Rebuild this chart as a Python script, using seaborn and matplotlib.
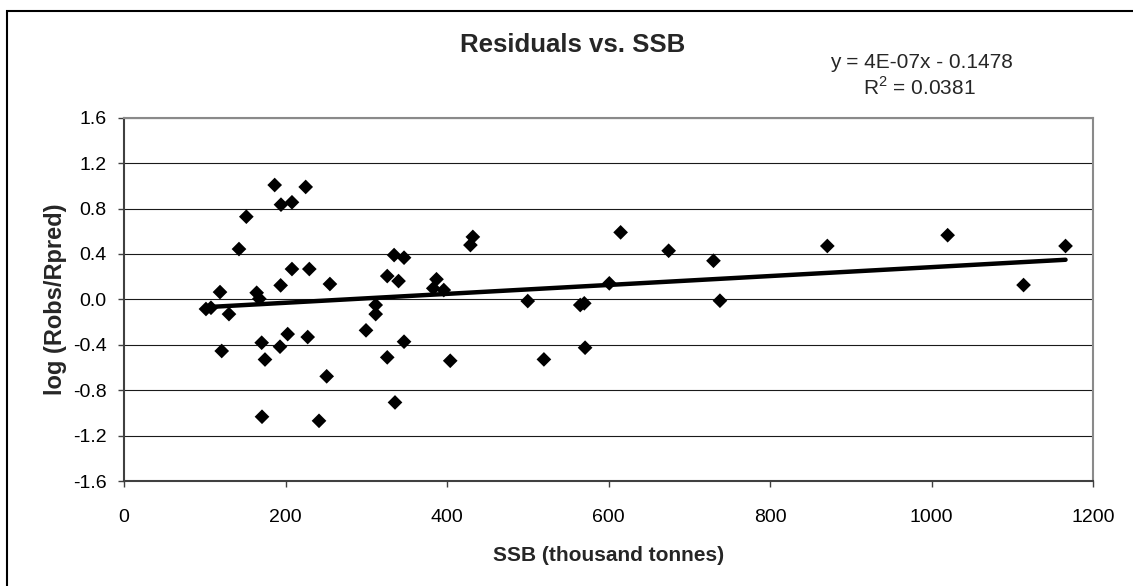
import numpy as np
import pandas as pd
import matplotlib
matplotlib.use("Agg")
import matplotlib.pyplot as plt
import seaborn as sns
from matplotlib.patches import Rectangle

# ---- data ----
ssb = [101.5, 107.7, 118.9, 121.0, 130.0, 142.4, 151.5, 164.3, 167.6, 170.5,
       174.6, 170.9, 186.6, 194.4, 208.0, 225.0, 194.0, 208.0, 229.5, 193.2,
       202.7, 227.5, 241.5, 255.0, 251.0, 299.7, 311.7, 311.7, 326.0, 335.6,
       346.8, 326.0, 340.0, 334.5, 346.8, 387.0, 383.0, 396.0, 404.0, 429.0,
       432.0, 500.0, 520.0, 565.0, 570.0, 571.0, 601.0, 615.0, 674.5, 730.0,
       738.0, 871.0, 1020.0, 1114.0, 1166.0]
resid = [-0.085, -0.074, 0.064, -0.455, -0.130, 0.443, 0.728, 0.058, 0.005, -0.382,
         -0.530, -1.034, 1.007, 0.834, 0.855, 0.990, 0.123, 0.267, 0.267, -0.417,
         -0.306, -0.332, -1.070, 0.135, -0.678, -0.273, -0.050, -0.130, -0.511, -0.908,
         -0.373, 0.205, 0.161, 0.390, 0.367, 0.177, 0.097, 0.082, -0.541, 0.478,
         0.550, -0.015, -0.529, -0.050, -0.035, -0.426, 0.141, 0.590, 0.428, 0.340,
         -0.012, 0.470, 0.565, 0.126, 0.470]
x_ticks = [0, 200, 400, 600, 800, 1000, 1200]
y_ticks = [-1.6, -1.2, -0.8, -0.4, 0.0, 0.4, 0.8, 1.2, 1.6]
y_tick_labels = ["-1.6", "-1.2", "-0.8", "-0.4", "0.0", "0.4", "0.8", "1.2", "1.6"]
title = "Residuals vs. SSB"
eq_text = "y = 4E-07x - 0.1478"
r2_text = "R$^2$ = 0.0381"
x_label = "SSB (thousand tonnes)"
y_label = "log (Robs/Rpred)"

df = pd.DataFrame({"SSB": ssb, "resid": resid})

sns.set_theme(style="white")
plt.rcParams["font.family"] = ["Liberation Sans", "DejaVu Sans"]
plt.rcParams["mathtext.fontset"] = "custom"
plt.rcParams["mathtext.rm"] = "Liberation Sans"

W, H = 1133, 586
fig = plt.figure(figsize=(W / 100, H / 100), dpi=100)
fig.patch.set_facecolor("white")
ax = fig.add_axes([124 / W, 1 - 481 / H, (1093 - 124) / W, (481 - 117.7) / H])

ax.set_xlim(0, 1200)
ax.set_ylim(-1.6, 1.6)
ax.set_yticks(y_ticks)
ax.set_yticklabels(y_tick_labels)
ax.set_xticks(x_ticks)
ax.yaxis.grid(True, color="#1a1a1a", linewidth=0.8)
ax.xaxis.grid(False)
ax.set_axisbelow(True)

sns.regplot(data=df, x="SSB", y="resid", ax=ax, ci=None, scatter=False,
            color="black", line_kws={"linewidth": 3.2, "solid_capstyle": "round"})
sns.scatterplot(data=df, x="SSB", y="resid", ax=ax, marker="D", s=56,
                color="black", edgecolor="none", linewidth=0, zorder=5)

for side in ["left", "bottom"]:
    ax.spines[side].set_color("#404040")
    ax.spines[side].set_linewidth(1.5)
for side in ["top", "right"]:
    ax.spines[side].set_color("#8a8a8a")
    ax.spines[side].set_linewidth(1.5)

ax.tick_params(axis="both", which="major", direction="out", length=4.5,
               width=1.0, color="#404040", labelsize=14, labelcolor="black")
ax.tick_params(axis="y", pad=8)
ax.tick_params(axis="x", pad=16)
ax.tick_params(left=True, bottom=True)

ax.set_xlabel(x_label, fontsize=15, fontweight="bold", labelpad=14)
ax.set_ylabel(y_label, fontsize=17, fontweight="bold", labelpad=4)

fig.text(573 / W, 1 - 45 / H, title, ha="center", va="center",
         fontsize=18.5, fontweight="bold")
fig.text(921 / W, 1 - 68 / H, eq_text, ha="center", va="baseline", fontsize=15)
fig.text(919 / W, 1 - 95 / H, r2_text, ha="center", va="baseline", fontsize=15)

# outer chart frame (left & top edges visible)
fig.add_artist(Rectangle((7 / W, -0.2), 1.5, (1 - 11 / H) + 0.2,
                         transform=fig.transFigure, fill=False,
                         edgecolor="black", linewidth=1.5))

fig.savefig("out.png", dpi=100, facecolor="white")
